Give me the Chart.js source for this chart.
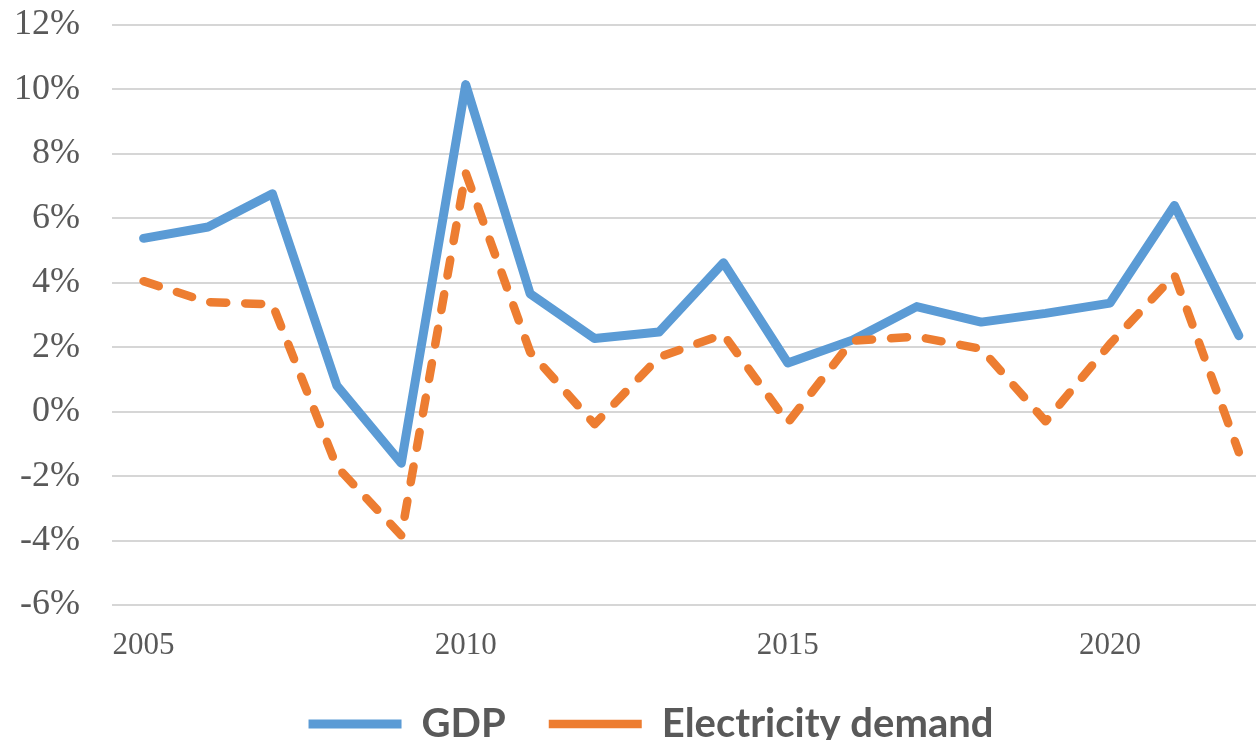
<!DOCTYPE html>
<html>
<head>
<meta charset="utf-8">
<script src="https://cdn.jsdelivr.net/npm/chart.js@4.4.1/dist/chart.umd.min.js"></script>
<style>
  html, body { margin: 0; padding: 0; overflow: hidden; background: #ffffff; }
  #wrap { position: relative; width: 1302px; height: 754px; }
</style>
</head>
<body>
<div id="wrap"><canvas id="chart"></canvas></div>
<script>
// Annual growth rates, per cent
const years = [2005, 2006, 2007, 2008, 2009, 2010, 2011, 2012, 2013, 2014, 2015, 2016, 2017, 2018, 2019, 2020, 2021, 2022];
const gdpGrowth = [5.38, 5.73, 6.76, 0.81, -1.6, 10.15, 3.66, 2.27, 2.47, 4.62, 1.51, 2.22, 3.26, 2.78, 3.05, 3.37, 6.4, 2.36];
const electricityGrowth = [4.05, 3.4, 3.33, -1.71, -3.84, 7.41, 1.85, -0.39, 1.69, 2.4, -0.34, 2.2, 2.33, 1.95, -0.3, 2.1, 4.24, -1.26];
const xTickYears = [2005, 2010, 2015, 2020];
const yTicks = [-6, -4, -2, 0, 2, 4, 6, 8, 10, 12];

const gray = '#595959';
const toPoints = vals => years.map((yr, i) => ({ x: yr, y: vals[i] }));

new Chart(document.getElementById('chart'), {
  type: 'line',
  data: {
    datasets: [
      {
        label: 'Electricity demand',
        data: toPoints(electricityGrowth),
        borderColor: '#ED7D31',
        backgroundColor: '#ED7D31',
        borderWidth: 8.5,
        borderDash: [16, 19],
        borderCapStyle: 'round',
        borderJoinStyle: 'round',
        pointRadius: 0,
        tension: 0
      },
      {
        label: 'GDP',
        data: toPoints(gdpGrowth),
        borderColor: '#5B9BD5',
        backgroundColor: '#5B9BD5',
        borderWidth: 9,
        borderCapStyle: 'round',
        borderJoinStyle: 'round',
        pointRadius: 0,
        tension: 0
      }
    ]
  },
  options: {
    responsive: true,
    maintainAspectRatio: false,
    animation: false,
    layout: { padding: { top: 25, left: 0, right: 0, bottom: 0 } },
    plugins: {
      tooltip: { enabled: false },
      legend: {
        position: 'bottom',
        reverse: true,
        labels: {
          usePointStyle: true,
          pointStyle: 'line',
          pointStyleWidth: 93,
          padding: 43,
          color: gray,
          font: { family: 'Lato', weight: 'bold', size: 40 }
        }
      }
    },
    scales: {
      x: {
        type: 'linear',
        min: 2004.51,
        max: 2022.98,
        grid: { display: false },
        border: { display: false },
        afterBuildTicks: s => { s.ticks = xTickYears.map(v => ({ value: v })); },
        afterFit: s => { s.height = 56; s.paddingLeft = 0; s.paddingRight = 0; },
        ticks: {
          padding: 14,
          color: gray,
          font: { family: 'Liberation Serif', size: 31 },
          callback: v => String(v)
        }
      },
      y: {
        min: -6,
        max: 12,
        afterBuildTicks: s => { s.ticks = yTicks.map(v => ({ value: v })); },
        afterFit: s => { s.width = 112; s.paddingTop = 0; s.paddingBottom = 0; },
        grid: { color: '#d6d6d6', lineWidth: 2, drawTicks: false },
        border: { display: false },
        ticks: {
          padding: 32,
          color: gray,
          font: { family: 'Liberation Serif', size: 36 },
          callback: v => v + '%'
        }
      }
    }
  }
});
</script>
</body>
</html>
